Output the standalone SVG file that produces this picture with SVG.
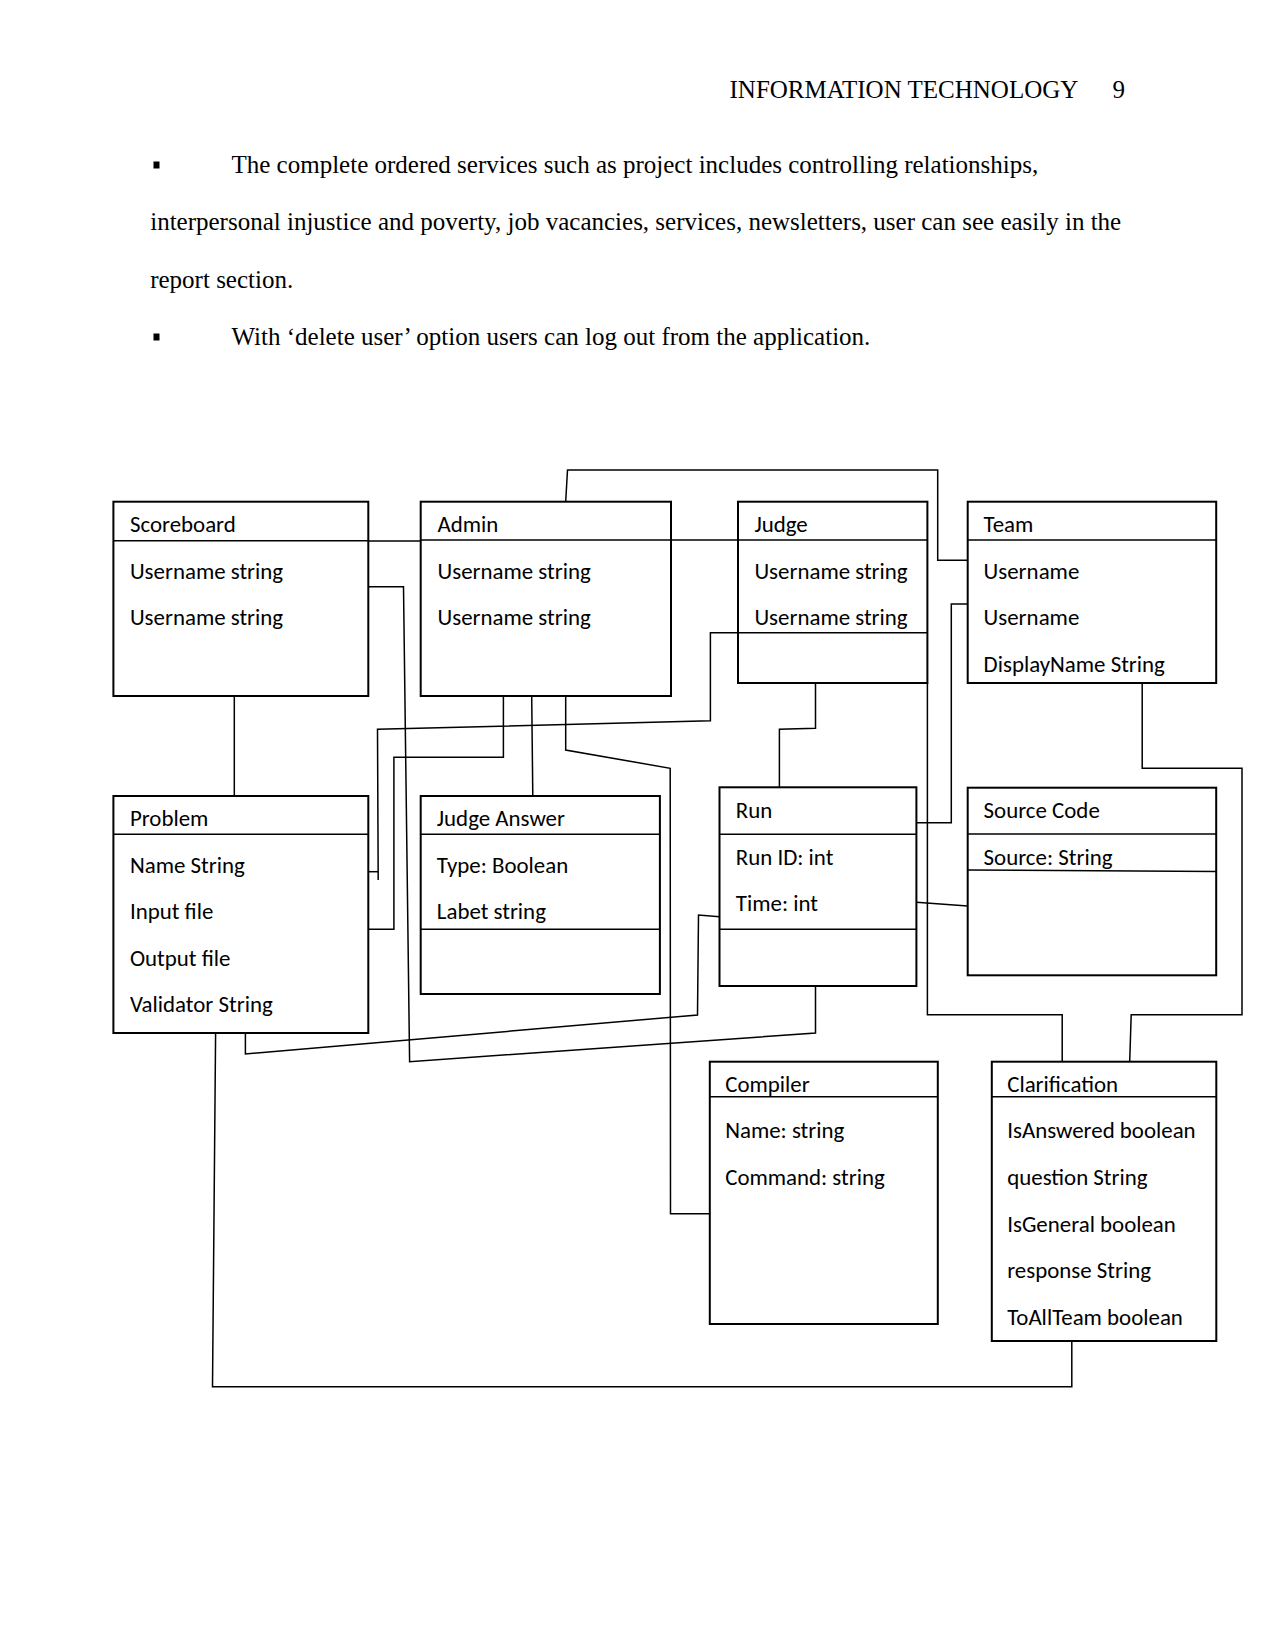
<svg xmlns="http://www.w3.org/2000/svg" width="1275" height="1650" viewBox="0 0 1275 1650">
<style>
.pg{font-family:"Liberation Serif","Times New Roman",serif;font-size:25px;fill:#000}
.t{font-family:Carlito,Lato,"Liberation Sans",sans-serif;font-size:22.9px;fill:#000}
.box{fill:#fff;stroke:#000;stroke-width:2}
.sep{stroke:#000;stroke-width:1.6;fill:none}
.c{stroke:#000;stroke-width:1.5;fill:none;stroke-linejoin:miter}
</style>
<rect width="1275" height="1650" fill="#fff"/>
<g id="page-text">
<text class="pg" x="729.5" y="97.5">INFORMATION TECHNOLOGY</text>
<text class="pg" x="1112.5" y="97.5">9</text>
<rect x="153.5" y="161.5" width="6" height="7" fill="#000"/>
<text class="pg" x="231.5" y="172.7">The complete ordered services such as project includes controlling relationships,</text>
<text class="pg" x="150.2" y="230" textLength="971" lengthAdjust="spacing">interpersonal injustice and poverty, job vacancies, services, newsletters, user can see easily in the</text>
<text class="pg" x="150.2" y="287.7">report section.</text>
<rect x="153.5" y="333.5" width="6" height="7" fill="#000"/>
<text class="pg" x="231.5" y="345">With ‘delete user’ option users can log out from the application.</text>
</g>
<g id="connectors">
<polyline class="c" points="565.7,501.7 567.5,470 937.7,470 937.7,560.3 967.7,560.3"/>
<polyline class="c" points="368.3,541 420.7,541"/>
<polyline class="c" points="671,540 738,540"/>
<polyline class="c" points="368.3,586.7 403.5,586.7 409.6,1061.7 815.5,1033 815.5,986"/>
<polyline class="c" points="234.3,696 234.3,796"/>
<polyline class="c" points="738,632.7 710.4,632.7 710.4,720.7 377.5,729.3 378.2,880"/>
<polyline class="c" points="368.3,871.7 378.2,871.7"/>
<polyline class="c" points="503.4,696 503.4,757.3 393.9,757.3 393.9,929.3 368.3,929.3"/>
<polyline class="c" points="531.7,696 532.8,796"/>
<polyline class="c" points="565.7,696 565.7,750 670.2,768.3 670.5,1213.7 709.8,1213.7"/>
<polyline class="c" points="815.5,683 815.5,728.3 779.4,729.3 779.4,787.3"/>
<polyline class="c" points="967.7,604 951.3,604 951.3,822.7 916.4,822.7"/>
<polyline class="c" points="927.4,683 927.4,1014.7 1062.2,1014.7 1062.2,1061.7"/>
<polyline class="c" points="1142.2,683 1142.2,768.3 1242,768.3 1242,1014.7 1131.2,1014.7 1129.7,1061.7"/>
<polyline class="c" points="916.4,902.3 967.7,906"/>
<polyline class="c" points="245.4,1033 245.4,1054 697.5,1015 698.5,915 719.5,916.7"/>
<polyline class="c" points="215.6,1033 212.5,1386.7 1071.8,1386.7 1071.8,1341"/>
</g>
<g id="scoreboard">
<rect class="box" x="113.4" y="501.7" width="254.9" height="194.3"/>
<line class="sep" x1="113.4" y1="540.7" x2="368.3" y2="540.7"/>
<text class="t" x="129.9" y="531.7">Scoreboard</text>
<text class="t" x="129.9" y="579.3">Username string</text>
<text class="t" x="129.9" y="625">Username string</text>
</g>
<g id="admin">
<rect class="box" x="420.7" y="501.7" width="250.3" height="194.3"/>
<line class="sep" x1="420.7" y1="540" x2="671" y2="540"/>
<text class="t" x="437.5" y="531.7">Admin</text>
<text class="t" x="437.5" y="579.3">Username string</text>
<text class="t" x="437.5" y="625">Username string</text>
</g>
<g id="judge">
<rect class="box" x="738" y="501.7" width="189.4" height="181.3"/>
<line class="sep" x1="738" y1="540" x2="927.4" y2="540"/>
<line class="sep" x1="738" y1="632.7" x2="927.4" y2="632.7"/>
<text class="t" x="754.4" y="531.7">Judge</text>
<text class="t" x="754.4" y="579.3">Username string</text>
<text class="t" x="754.4" y="625">Username string</text>
</g>
<g id="team">
<rect class="box" x="967.7" y="501.7" width="248.5" height="181.3"/>
<line class="sep" x1="967.7" y1="540" x2="1216.2" y2="540"/>
<text class="t" x="983.6" y="531.7">Team</text>
<text class="t" x="983.6" y="579.3">Username</text>
<text class="t" x="983.6" y="625">Username</text>
<text class="t" x="983.6" y="671.7">DisplayName String</text>
</g>
<g id="problem">
<rect class="box" x="113.4" y="796" width="254.9" height="237"/>
<line class="sep" x1="113.4" y1="834.3" x2="368.3" y2="834.3"/>
<text class="t" x="129.9" y="826">Problem</text>
<text class="t" x="129.9" y="872.7">Name String</text>
<text class="t" x="129.9" y="919.3">Input file</text>
<text class="t" x="129.9" y="966">Output file</text>
<text class="t" x="129.9" y="1012.3">Validator String</text>
</g>
<g id="judge-answer">
<rect class="box" x="420.7" y="796" width="239.2" height="198"/>
<line class="sep" x1="420.7" y1="834.3" x2="659.9" y2="834.3"/>
<line class="sep" x1="420.7" y1="929.3" x2="659.9" y2="929.3"/>
<text class="t" x="436.8" y="826">Judge Answer</text>
<text class="t" x="436.8" y="872.7">Type: Boolean</text>
<text class="t" x="436.8" y="919.3">Labet string</text>
</g>
<g id="run">
<rect class="box" x="719.5" y="787.3" width="196.9" height="198.7"/>
<line class="sep" x1="719.5" y1="834.3" x2="916.4" y2="834.3"/>
<line class="sep" x1="719.5" y1="929.3" x2="916.4" y2="929.3"/>
<text class="t" x="735.8" y="817.7">Run</text>
<text class="t" x="735.8" y="865">Run ID: int</text>
<text class="t" x="735.8" y="911">Time: int</text>
</g>
<g id="source-code">
<rect class="box" x="967.7" y="787.7" width="248.5" height="187.6"/>
<line class="sep" x1="967.7" y1="834" x2="1216.2" y2="834"/>
<line class="sep" x1="967.7" y1="870" x2="1216.2" y2="871.5"/>
<text class="t" x="983.6" y="817.7">Source Code</text>
<text class="t" x="983.6" y="865">Source: String</text>
</g>
<g id="compiler">
<rect class="box" x="709.8" y="1061.7" width="228" height="262.3"/>
<line class="sep" x1="709.8" y1="1096.7" x2="937.8" y2="1096.7"/>
<text class="t" x="725.2" y="1091.7">Compiler</text>
<text class="t" x="725.2" y="1138.3">Name: string</text>
<text class="t" x="725.2" y="1185">Command: string</text>
</g>
<g id="clarification">
<rect class="box" x="991.8" y="1061.7" width="224.5" height="279.3"/>
<line class="sep" x1="991.8" y1="1096.7" x2="1216.3" y2="1096.7"/>
<text class="t" x="1007.2" y="1091.7">Clarification</text>
<text class="t" x="1007.2" y="1138.3">IsAnswered boolean</text>
<text class="t" x="1007.2" y="1185">question String</text>
<text class="t" x="1007.2" y="1231.7">IsGeneral boolean</text>
<text class="t" x="1007.2" y="1278.3">response String</text>
<text class="t" x="1007.2" y="1325">ToAllTeam boolean</text>
</g>
</svg>
